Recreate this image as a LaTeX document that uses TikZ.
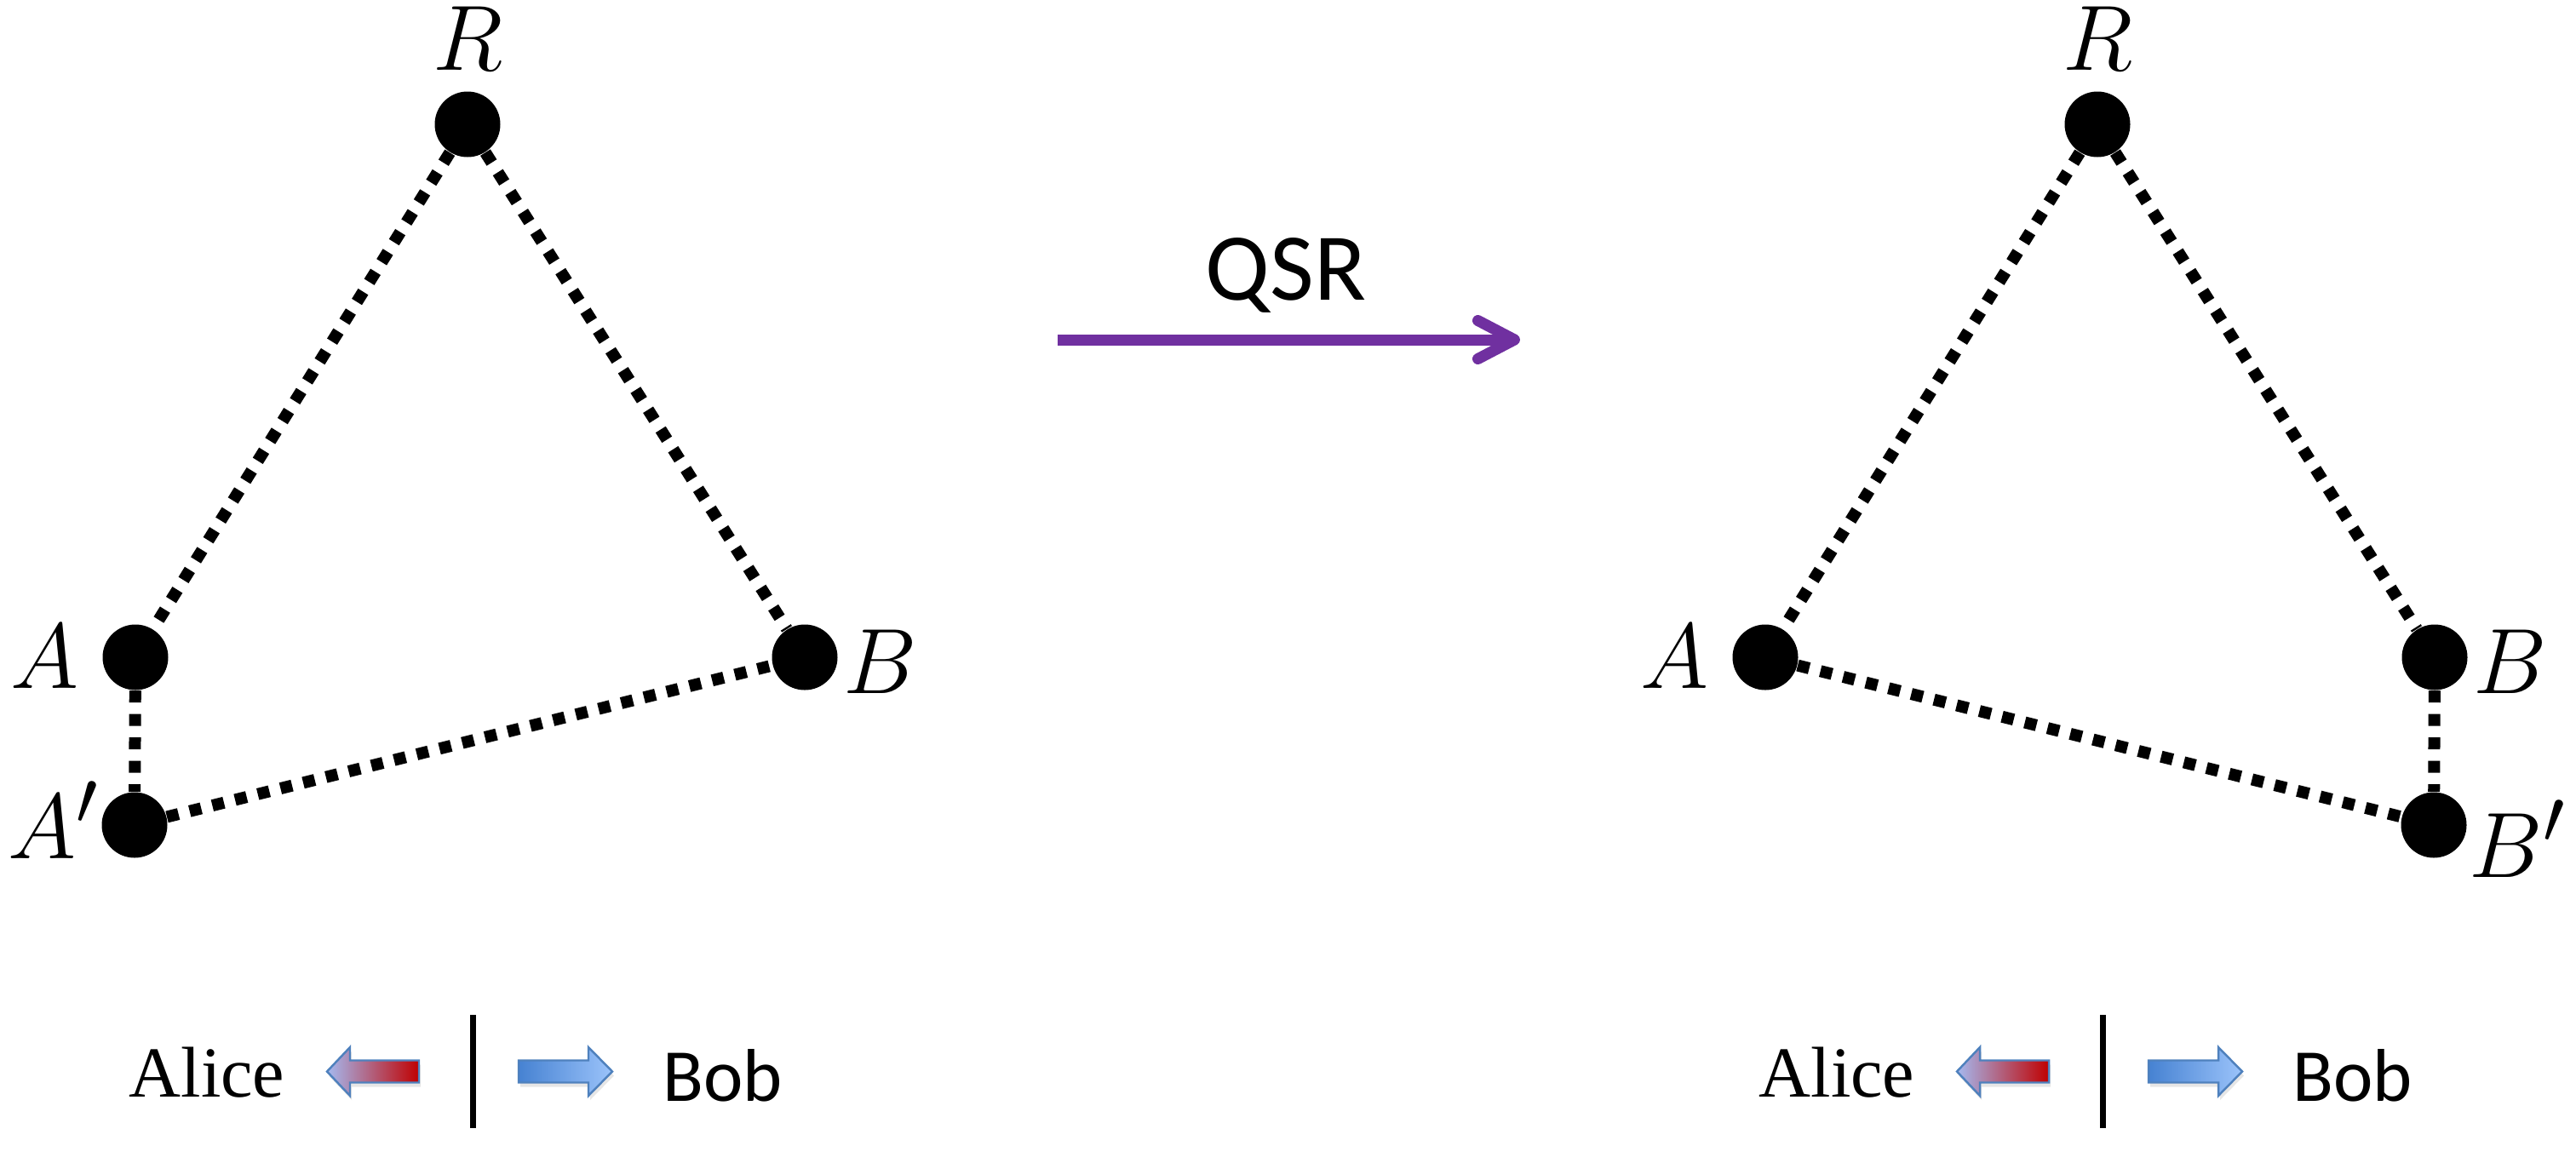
\documentclass[tikz,border=0pt]{standalone}
\usepackage{fontspec}
\newfontfamily\serifrm{Liberation Serif}
\newfontfamily\sansrm{Carlito}
\usetikzlibrary{arrows.meta, shadows}
\definecolor{qsrpurple}{RGB}{112,48,160}
\definecolor{arrowedge}{RGB}{79,129,189}
\definecolor{alicelight}{RGB}{165,185,240}
\definecolor{alicered}{RGB}{192,0,0}
\definecolor{bobdark}{RGB}{70,130,210}
\definecolor{boblight}{RGB}{155,195,250}

\begin{document}
\begin{tikzpicture}[
    dot/.style={circle, fill=black, inner sep=0pt, minimum size=0.77cm},
    link/.style={line width=0.14cm, dash pattern=on 0.14cm off 0.135cm},
    lbl/.style={inner sep=0pt, scale=1.246, font=\fontsize{24.88}{30}\selectfont},
    wide arrow/.style={draw=arrowedge, line width=0.7pt, line join=miter,
        drop shadow={opacity=0.2, shadow xshift=0.02cm, shadow yshift=-0.05cm}},
  ]
    \useasboundingbox (0,0) rectangle (30.25,-13.65);
    \foreach \p/\s in {l/0, r/19.14}{
        \begin{scope}[xshift=\s cm]
        \node[dot] (R\p) at (5.49,-1.46) {};
        \node[dot] (A\p) at (1.59,-7.72) {};
        \node[dot] (B\p) at (9.45,-7.72) {};
        \node[lbl, anchor=base] (LR\p) at (5.50,-0.82) {$R$};
        \node[lbl, anchor=base] (LA\p) at (0.52,-8.08) {$A$};
        \node[lbl, anchor=base] (LB\p) at (10.34,-8.14) {$B$};
        \draw[link] (R\p) -- (A\p);
        \draw[link] (R\p) -- (B\p);
        % legend
        \node[anchor=base, inner sep=0pt, font=\serifrm\fontsize{24}{28}\selectfont] (alice\p) at (2.43,-12.88) {Alice};
        \node[anchor=base, inner sep=0pt, font=\sansrm\fontsize{25}{30}\selectfont] (bob\p) at (8.49,-12.93) {Bob};
        \shadedraw[wide arrow, left color=alicelight, right color=alicered]
            (3.84,-12.585) -- (4.11,-12.30) -- (4.11,-12.455) -- (4.92,-12.455)
            -- (4.92,-12.715) -- (4.11,-12.715) -- (4.11,-12.87) -- cycle;
        \shadedraw[wide arrow, left color=bobdark, right color=boblight]
            (6.09,-12.455) -- (6.91,-12.455) -- (6.91,-12.30) -- (7.19,-12.585)
            -- (6.91,-12.87) -- (6.91,-12.715) -- (6.09,-12.715) -- cycle;
        \draw[line width=0.07cm] (5.55,-11.92) -- (5.55,-13.25);
        \end{scope}
    }
    % left: A'
    \node[dot] (Ap) at (1.58,-9.69) {};
    \node[lbl, anchor=base west] (LAp) at (0.09,-10.08) {$A'$};
    \draw[link] (Al) -- (Ap);
    \draw[link] (Ap) -- (Bl);
    % right: B'
    \node[dot] (Bp) at (28.58,-9.69) {};
    \node[lbl, anchor=base west] (LBp) at (28.99,-10.30) {$B'$};
    \draw[link] (Ar) -- (Bp);
    \draw[link] (Br) -- (Bp);
    % QSR map
    \node[anchor=base, inner sep=0pt, font=\sansrm\fontsize{32}{38}\selectfont] (qsr) at (15.10,-3.52) {QSR};
    \coordinate (qs) at (12.42,-3.99);
    \coordinate (qe) at (17.85,-3.99);
    \draw[qsrpurple, line width=0.13cm, -{Straight Barb[length=0.43cm, width=0.45cm, round]}] (qs) -- (qe);
\end{tikzpicture}
\end{document}
